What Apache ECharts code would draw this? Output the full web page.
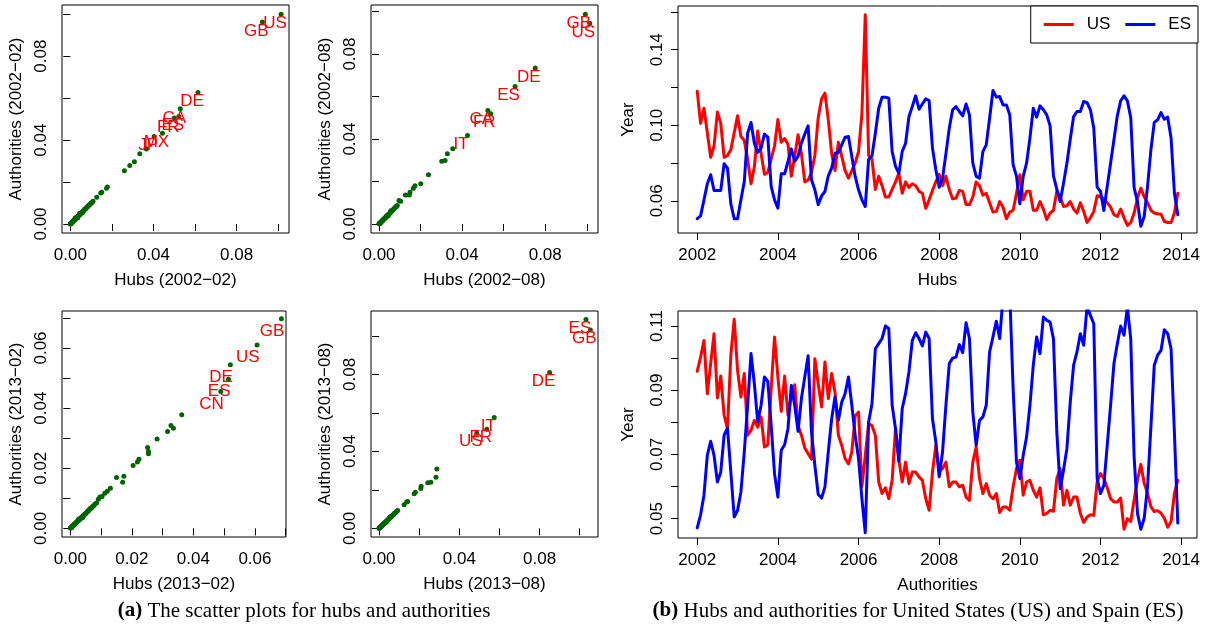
<!DOCTYPE html>
<html>
<head>
<meta charset="utf-8">
<script src="https://cdn.jsdelivr.net/npm/echarts@6/dist/echarts.min.js"></script>
<style>
  html, body { margin: 0; padding: 0; background: #ffffff; }
  #chart { width: 1211px; height: 631px; }
</style>
</head>
<body>
<div id="chart"></div>
<script>
// ---------------------------------------------------------------
// Scatter panels: hub score vs authority score per country.
// The first entries of each list are the labelled countries.
// ---------------------------------------------------------------
const names0202 = ['US', 'GB', 'DE', 'CA', 'ES', 'FR', 'MX', 'JP'];
const hubs0202 = [0.1014, 0.0924, 0.0614, 0.0529, 0.0522, 0.0500, 0.0443, 0.0403,
  0.0366, 0.0334, 0.0308, 0.0286, 0.0260, 0.0178, 0.0174, 0.0151, 0.0146, 0.0127,
  0.0001, 0.0002, 0.0003, 0.0004, 0.0006, 0.0007, 0.0009, 0.0010, 0.0012, 0.0014,
  0.0015, 0.0017, 0.0019, 0.0021, 0.0023, 0.0025, 0.0027, 0.0030, 0.0032, 0.0035,
  0.0037, 0.0040, 0.0043, 0.0046, 0.0049, 0.0052, 0.0055, 0.0059, 0.0062, 0.0066,
  0.0070, 0.0074, 0.0078, 0.0083, 0.0087, 0.0092, 0.0096, 0.0101, 0.0105, 0.0109,
  0.0035, 0.0045, 0.0060, 0.0024, 0.0000, 0.0001];
const auth0202 = [0.1000, 0.0963, 0.0627, 0.0549, 0.0513, 0.0505, 0.0433, 0.0417,
  0.0357, 0.0335, 0.0297, 0.0279, 0.0254, 0.0176, 0.0171, 0.0151, 0.0148, 0.0127,
  0.0002, 0.0001, 0.0004, 0.0004, 0.0005, 0.0008, 0.0009, 0.0011, 0.0012, 0.0013,
  0.0016, 0.0017, 0.0020, 0.0021, 0.0022, 0.0026, 0.0027, 0.0029, 0.0033, 0.0034,
  0.0038, 0.0041, 0.0042, 0.0047, 0.0048, 0.0053, 0.0055, 0.0058, 0.0063, 0.0065,
  0.0071, 0.0073, 0.0079, 0.0082, 0.0088, 0.0091, 0.0097, 0.0100, 0.0104, 0.0108,
  0.0029, 0.0051, 0.0055, 0.0030, 0.0001, 0.0000];

const names0208 = ['GB', 'US', 'DE', 'ES', 'CA', 'FR', 'IT'];
const hubs0208 = [0.0993, 0.1014, 0.0752, 0.0655, 0.0524, 0.0538, 0.0426,
  0.0355, 0.0329, 0.0318, 0.0302, 0.0238, 0.0201, 0.0173, 0.0165, 0.0149, 0.0146,
  0.0127, 0.0104, 0.0096,
  0.0001, 0.0002, 0.0003, 0.0005, 0.0006, 0.0008, 0.0009, 0.0011, 0.0013, 0.0015,
  0.0016, 0.0018, 0.0020, 0.0022, 0.0024, 0.0027, 0.0029, 0.0031, 0.0034, 0.0036,
  0.0039, 0.0042, 0.0045, 0.0048, 0.0051, 0.0055, 0.0058, 0.0062, 0.0066, 0.0070,
  0.0074, 0.0079, 0.0083, 0.0088, 0.0044, 0.0057, 0.0000];
const auth0208 = [0.0988, 0.0945, 0.0734, 0.0647, 0.0534, 0.0519, 0.0417,
  0.0354, 0.0331, 0.0299, 0.0295, 0.0232, 0.0190, 0.0180, 0.0168, 0.0149, 0.0136,
  0.0136, 0.0107, 0.0111,
  0.0002, 0.0001, 0.0004, 0.0004, 0.0007, 0.0007, 0.0010, 0.0010, 0.0014, 0.0014,
  0.0017, 0.0017, 0.0021, 0.0021, 0.0025, 0.0026, 0.0030, 0.0030, 0.0035, 0.0035,
  0.0040, 0.0041, 0.0046, 0.0047, 0.0050, 0.0056, 0.0057, 0.0063, 0.0065, 0.0071,
  0.0073, 0.0080, 0.0081, 0.0087, 0.0038, 0.0062, 0.0001];

const names1302 = ['GB', 'US', 'DE', 'ES', 'CN'];
const hubs1302 = [0.0686, 0.0607, 0.0520, 0.0514, 0.0489,
  0.0362, 0.0335, 0.0327, 0.0316, 0.0282, 0.0251, 0.0254, 0.0254, 0.0223, 0.0218,
  0.0204, 0.0174, 0.0150, 0.0170, 0.0130, 0.0120, 0.0112, 0.0103, 0.0096, 0.0091,
  0.0001, 0.0002, 0.0003, 0.0004, 0.0005, 0.0006, 0.0007, 0.0008, 0.0010, 0.0011,
  0.0012, 0.0013, 0.0015, 0.0016, 0.0018, 0.0019, 0.0021, 0.0022, 0.0024, 0.0026,
  0.0028, 0.0030, 0.0032, 0.0034, 0.0036, 0.0038, 0.0041, 0.0043, 0.0046, 0.0049,
  0.0052, 0.0055, 0.0058, 0.0061, 0.0064, 0.0068, 0.0072, 0.0076, 0.0080, 0.0085,
  0.0027, 0.0040, 0.0000];
const auth1302 = [0.0697, 0.0610, 0.0544, 0.0496, 0.0455,
  0.0378, 0.0333, 0.0342, 0.0322, 0.0297, 0.0269, 0.0256, 0.0248, 0.0230, 0.0221,
  0.0209, 0.0173, 0.0169, 0.0153, 0.0133, 0.0123, 0.0117, 0.0106, 0.0104, 0.0097,
  0.0002, 0.0001, 0.0004, 0.0003, 0.0006, 0.0006, 0.0008, 0.0008, 0.0011, 0.0010,
  0.0013, 0.0013, 0.0016, 0.0015, 0.0019, 0.0019, 0.0022, 0.0021, 0.0025, 0.0025,
  0.0029, 0.0029, 0.0033, 0.0033, 0.0037, 0.0037, 0.0042, 0.0042, 0.0047, 0.0048,
  0.0053, 0.0054, 0.0059, 0.0060, 0.0066, 0.0067, 0.0073, 0.0075, 0.0081, 0.0084,
  0.0031, 0.0036, 0.0001];

const names1308 = ['ES', 'GB', 'DE', 'IT', 'FR', 'US'];
const hubs1308 = [0.1031, 0.1053, 0.0850, 0.0574, 0.0537, 0.0487,
  0.0288, 0.0284, 0.0258, 0.0243, 0.0210, 0.0208, 0.0181, 0.0175, 0.0143, 0.0138,
  0.0125, 0.0093,
  0.0001, 0.0002, 0.0003, 0.0004, 0.0005, 0.0007, 0.0008, 0.0009, 0.0011, 0.0012,
  0.0014, 0.0015, 0.0017, 0.0019, 0.0021, 0.0023, 0.0025, 0.0027, 0.0029, 0.0032,
  0.0034, 0.0037, 0.0040, 0.0043, 0.0046, 0.0049, 0.0052, 0.0056, 0.0060, 0.0064,
  0.0068, 0.0072, 0.0077, 0.0082, 0.0087, 0.0036, 0.0053, 0.0000];
const auth1308 = [0.1085, 0.1030, 0.0809, 0.0576, 0.0515, 0.0494,
  0.0308, 0.0266, 0.0239, 0.0237, 0.0218, 0.0207, 0.0187, 0.0180, 0.0140, 0.0137,
  0.0123, 0.0093,
  0.0002, 0.0001, 0.0004, 0.0003, 0.0006, 0.0006, 0.0009, 0.0008, 0.0012, 0.0011,
  0.0015, 0.0014, 0.0018, 0.0018, 0.0022, 0.0022, 0.0026, 0.0026, 0.0030, 0.0031,
  0.0035, 0.0036, 0.0041, 0.0042, 0.0047, 0.0048, 0.0053, 0.0055, 0.0061, 0.0063,
  0.0069, 0.0071, 0.0078, 0.0081, 0.0088, 0.0031, 0.0058, 0.0001];

// ---------------------------------------------------------------
// Monthly series, Jan 2002 .. Dec 2013 (one row per year).
// ---------------------------------------------------------------
const firstYear = 2002;
const usHubs = [
  0.118, 0.101, 0.109, 0.096, 0.083, 0.089, 0.107, 0.101, 0.083, 0.084, 0.087, 0.096,
  0.105, 0.094, 0.092, 0.082, 0.069, 0.078, 0.097, 0.085, 0.074, 0.075, 0.082, 0.089,
  0.103, 0.091, 0.093, 0.090, 0.073, 0.0835, 0.095, 0.085, 0.070, 0.071, 0.075, 0.084,
  0.104, 0.114, 0.117, 0.103, 0.085, 0.076, 0.091, 0.0835, 0.076, 0.072, 0.076, 0.080,
  0.086, 0.106, 0.1585, 0.084, 0.082, 0.066, 0.073, 0.068, 0.062, 0.062, 0.066, 0.070,
  0.0745, 0.064, 0.070, 0.067, 0.069, 0.068, 0.065, 0.064, 0.056, 0.0605, 0.0655, 0.070,
  0.074, 0.068, 0.073, 0.066, 0.061, 0.0614, 0.0655, 0.065, 0.058, 0.058, 0.062, 0.070,
  0.068, 0.063, 0.064, 0.059, 0.054, 0.0544, 0.0596, 0.0566, 0.0505, 0.054, 0.055, 0.064,
  0.0738, 0.0605, 0.065, 0.065, 0.055, 0.055, 0.0596, 0.0556, 0.050, 0.0535, 0.055, 0.065,
  0.062, 0.057, 0.0574, 0.0596, 0.0556, 0.0535, 0.059, 0.0544, 0.0485, 0.051, 0.0544, 0.0627,
  0.062, 0.061, 0.059, 0.0566, 0.0526, 0.0517, 0.0556, 0.051, 0.047, 0.0485, 0.0535, 0.0614,
  0.0667, 0.062, 0.059, 0.055, 0.0535, 0.053, 0.053, 0.049, 0.0485, 0.0485, 0.0535, 0.064
];
const esHubs = [
  0.0505, 0.052, 0.0605, 0.069, 0.0738, 0.0655, 0.0655, 0.0655, 0.0796, 0.0773, 0.0584, 0.0505,
  0.0505, 0.0605, 0.0702, 0.0958, 0.1015, 0.0905, 0.0856, 0.0879, 0.0953, 0.0937, 0.0676, 0.0605,
  0.0561, 0.0743, 0.0743, 0.0808, 0.0875, 0.0808, 0.0835, 0.0905, 0.0953, 0.0997, 0.0711, 0.0658,
  0.0579, 0.0626, 0.0649, 0.0732, 0.0773, 0.0852, 0.0856, 0.0896, 0.0937, 0.094, 0.0835, 0.0729,
  0.0658, 0.0605, 0.057, 0.082, 0.0838, 0.0958, 0.109, 0.1149, 0.1149, 0.1143, 0.0861, 0.0782,
  0.0746, 0.0861, 0.0905, 0.1046, 0.1099, 0.1156, 0.1085, 0.1113, 0.114, 0.1131, 0.0879, 0.0764,
  0.0672, 0.072, 0.0849, 0.0985, 0.1082, 0.1099, 0.1073, 0.105, 0.1113, 0.1055, 0.0799, 0.0729,
  0.072, 0.0861, 0.0896, 0.1037, 0.1184, 0.1149, 0.1152, 0.1108, 0.1108, 0.1055, 0.0791, 0.0729,
  0.0584, 0.0729, 0.0799, 0.0932, 0.109, 0.1043, 0.1103, 0.1082, 0.1055, 0.0997, 0.0732, 0.0662,
  0.0596, 0.0693, 0.0799, 0.0926, 0.1046, 0.1073, 0.1073, 0.1126, 0.112, 0.1082, 0.0985, 0.0672,
  0.0649, 0.0549, 0.0676, 0.0799, 0.0923, 0.105, 0.113, 0.1156, 0.113, 0.104, 0.067, 0.0596,
  0.0465, 0.0517, 0.0676, 0.087, 0.1015, 0.1029, 0.1067, 0.1032, 0.1043, 0.0932, 0.064, 0.0526
];
const usAuth = [
  0.0959, 0.1003, 0.1055, 0.0889, 0.0983, 0.1076, 0.0876, 0.0944, 0.0822, 0.078, 0.1009, 0.1121,
  0.0962, 0.0879, 0.0952, 0.076, 0.0775, 0.0806, 0.0785, 0.0817, 0.0723, 0.073, 0.0905, 0.1066,
  0.0941, 0.0834, 0.0944, 0.0822, 0.088, 0.0917, 0.079, 0.076, 0.072, 0.0702, 0.0685, 0.0998,
  0.092, 0.0848, 0.0988, 0.0874, 0.0952, 0.0894, 0.076, 0.0728, 0.0687, 0.067, 0.0708, 0.082,
  0.0832, 0.060, 0.0697, 0.0796, 0.0789, 0.076, 0.0614, 0.0578, 0.0596, 0.0562, 0.062, 0.078,
  0.0682, 0.0614, 0.0676, 0.0609, 0.0645, 0.0645, 0.063, 0.0619, 0.0562, 0.0526, 0.0645, 0.0728,
  0.0645, 0.0656, 0.0676, 0.0599, 0.0614, 0.0614, 0.0599, 0.0604, 0.0567, 0.0557, 0.0676, 0.0723,
  0.0625, 0.0578, 0.0609, 0.0573, 0.0562, 0.0578, 0.0519, 0.0536, 0.0536, 0.0526, 0.0599, 0.0656,
  0.0682, 0.0573, 0.0614, 0.0619, 0.0588, 0.0567, 0.0596, 0.0512, 0.0516, 0.0526, 0.0523, 0.0625,
  0.0656, 0.0542, 0.0588, 0.0542, 0.0567, 0.0567, 0.0516, 0.0488, 0.0505, 0.0512, 0.051, 0.0614,
  0.064, 0.0625, 0.0596, 0.0562, 0.0552, 0.0552, 0.0564, 0.0467, 0.05, 0.0491, 0.0558, 0.062,
  0.0669, 0.061, 0.0579, 0.0537, 0.0522, 0.0525, 0.0517, 0.0501, 0.0473, 0.0491, 0.0579, 0.062
];
const esAuth = [
  0.0471, 0.0512, 0.0573, 0.0697, 0.0741, 0.0697, 0.0614, 0.0645, 0.076, 0.0782, 0.0645, 0.0505,
  0.0526, 0.0583, 0.0708, 0.0853, 0.1014, 0.092, 0.0801, 0.0853, 0.0941, 0.0928, 0.0791, 0.064,
  0.0567, 0.0713, 0.073, 0.078, 0.0915, 0.0853, 0.0772, 0.0874, 0.0941, 0.1007, 0.077, 0.0666,
  0.0575, 0.0564, 0.0599, 0.0708, 0.0811, 0.0879, 0.0806, 0.0863, 0.0889, 0.0941, 0.0853, 0.076,
  0.0687, 0.0562, 0.0456, 0.0801, 0.0858, 0.1029, 0.1045, 0.1061, 0.11, 0.1092, 0.0853, 0.078,
  0.0679, 0.0843, 0.089, 0.0957, 0.1055, 0.1079, 0.1061, 0.1038, 0.1081, 0.1061, 0.0811, 0.0739,
  0.063, 0.0708, 0.0853, 0.0983, 0.1, 0.1003, 0.1042, 0.1017, 0.111, 0.1061, 0.0832, 0.0728,
  0.0806, 0.0817, 0.0853, 0.1019, 0.1066, 0.1115, 0.1061, 0.119, 0.122, 0.12, 0.0905, 0.0676,
  0.0625, 0.0697, 0.0754, 0.0853, 0.0978, 0.1066, 0.1014, 0.1128, 0.1118, 0.1112, 0.106, 0.077,
  0.0593, 0.0651, 0.0718, 0.0863, 0.0978, 0.1019, 0.1076, 0.104, 0.116, 0.1133, 0.1107, 0.0625,
  0.0578, 0.0604, 0.0728, 0.0853, 0.0983, 0.1045, 0.11, 0.1071, 0.116, 0.106, 0.0693, 0.0517,
  0.0467, 0.0501, 0.06, 0.0786, 0.0978, 0.1009, 0.1024, 0.1088, 0.1076, 0.1029, 0.0765, 0.0486
];

// Tick positions and labelled ticks
const ticksTenth = [0, 0.02, 0.04, 0.06, 0.08, 0.10];
const labelsTenth = [0, 0.04, 0.08];
const ticksSeventh = [0, 0.01, 0.02, 0.03, 0.04, 0.05, 0.06, 0.07];
const labelsSeventh = [0, 0.02, 0.04, 0.06];
const yearTicks = [2002, 2004, 2006, 2008, 2010, 2012, 2014];
const hubsTicks = [0.06, 0.08, 0.10, 0.12, 0.14, 0.16];
const hubsLabels = [0.06, 0.10, 0.14];
const authTicks = [0.05, 0.06, 0.07, 0.08, 0.09, 0.10, 0.11];
const authLabels = [0.05, 0.07, 0.09, 0.11];

// ---------------------------------------------------------------
// Layout and styling
// ---------------------------------------------------------------
const sans = '"Liberation Sans", Arial, Helvetica, sans-serif';
const serif = '"Liberation Serif", "Times New Roman", serif';
const ink = '#000000';
const dotColor = '#006400';
const usColor = '#ff0000';
const esColor = '#0000ff';
const textSize = 17;

const grids = [
  { left: 62, top: 5, width: 227, height: 228 },
  { left: 371, top: 5, width: 227, height: 228 },
  { left: 62, top: 311, width: 224, height: 226 },
  { left: 371, top: 311, width: 227, height: 226 },
  { left: 678, top: 6, width: 519, height: 227 },
  { left: 678, top: 311, width: 519, height: 227 }
];

const fmt2 = v => v.toFixed(2);
const fmtYear = v => String(Math.round(v));

const scatterPanels = [
  { hubs: hubs0202, auth: auth0202, names: names0202, labelOffset: [-6, 9],
    x: { min: -0.00402, max: 0.1052, ticks: ticksTenth, labels: labelsTenth, name: 'Hubs (2002\u221202)' },
    y: { min: -0.00429, max: 0.1044, ticks: ticksTenth, labels: labelsTenth, name: 'Authorities (2002\u221202)' } },
  { hubs: hubs0208, auth: auth0208, names: names0208, labelOffset: [-6.5, 9],
    x: { min: -0.00386, max: 0.1054, ticks: ticksTenth, labels: labelsTenth, name: 'Hubs (2002\u221208)' },
    y: { min: -0.00423, max: 0.1031, ticks: ticksTenth, labels: labelsTenth, name: 'Authorities (2002\u221208)' } },
  { hubs: hubs1302, auth: auth1302, names: names1302, labelOffset: [-9.3, 12.5],
    x: { min: -0.00272, max: 0.0701, ticks: ticksSeventh, labels: labelsSeventh, name: 'Hubs (2013\u221202)' },
    y: { min: -0.00288, max: 0.0723, ticks: ticksSeventh, labels: labelsSeventh, name: 'Authorities (2013\u221202)' } },
  { hubs: hubs1308, auth: auth1308, names: names1308, labelOffset: [-6, 8.5],
    x: { min: -0.00399, max: 0.1091, ticks: ticksTenth, labels: labelsTenth, name: 'Hubs (2013\u221208)' },
    y: { min: -0.0045, max: 0.1129, ticks: ticksTenth, labels: labelsTenth, name: 'Authorities (2013\u221208)' } }
];

function makeAxis(dim, gridIndex, o, fmt, nameGap) {
  return {
    type: 'value',
    gridIndex: gridIndex,
    min: o.min,
    max: o.max,
    axisLine: { show: false },
    splitLine: { show: false },
    axisTick: { show: true, inside: false, length: 7, customValues: o.ticks,
                lineStyle: { color: ink, width: 1 } },
    axisLabel: { show: true, customValues: o.labels, formatter: fmt,
                 margin: dim === 'x' ? 14 : 12, rotate: dim === 'y' ? 90 : 0,
                 color: ink, fontSize: textSize, fontFamily: sans, hideOverlap: false },
    name: o.name,
    nameLocation: 'middle',
    nameGap: nameGap,
    nameTextStyle: { color: ink, fontSize: textSize, fontFamily: sans }
  };
}

const xAxes = [];
const yAxes = [];
const series = [];

scatterPanels.forEach((p, k) => {
  xAxes.push(makeAxis('x', k, p.x, fmt2, 39));
  yAxes.push(makeAxis('y', k, p.y, fmt2, 37));
  series.push({
    type: 'scatter',
    xAxisIndex: k,
    yAxisIndex: k,
    symbol: 'circle',
    symbolSize: 5,
    silent: true,
    itemStyle: { color: dotColor, borderWidth: 0, opacity: 1 },
    label: { show: false, position: 'inside', offset: p.labelOffset, formatter: '{b}',
             color: '#ff0000', opacity: 1, fontSize: textSize, fontFamily: sans },
    data: p.hubs.map((h, i) => ({
      name: p.names[i] || '',
      value: [h, p.auth[i]],
      label: { show: i < p.names.length }
    }))
  });
});

// Time-series panels
const yearRange = { min: 2001.523, max: 2014.393, ticks: yearTicks, labels: yearTicks };
xAxes.push(makeAxis('x', 4, Object.assign({ name: 'Hubs' }, yearRange), fmtYear, 39));
yAxes.push(makeAxis('y', 4, { min: 0.04294, max: 0.16317, ticks: hubsTicks, labels: hubsLabels, name: 'Year' }, fmt2, 41));
xAxes.push(makeAxis('x', 5, Object.assign({ name: 'Authorities' }, yearRange), fmtYear, 39));
yAxes.push(makeAxis('y', 5, { min: 0.04396, max: 0.11467, ticks: authTicks, labels: authLabels, name: 'Year' }, fmt2, 41));

function monthly(values) {
  return values.map((v, i) => [firstYear + i / 12, v]);
}
function lineSeries(idx, name, values, color) {
  return {
    type: 'line',
    name: name,
    xAxisIndex: idx,
    yAxisIndex: idx,
    showSymbol: false,
    symbol: 'none',
    clip: true,
    silent: true,
    lineStyle: { color: color, width: 3, join: 'round', cap: 'round' },
    itemStyle: { color: color },
    data: monthly(values)
  };
}
series.push(lineSeries(4, 'US', usHubs, usColor));
series.push(lineSeries(4, 'ES', esHubs, esColor));
series.push(lineSeries(5, 'US', usAuth, usColor));
series.push(lineSeries(5, 'ES', esAuth, esColor));

const option = {
  animation: false,
  backgroundColor: '#ffffff',
  grid: grids.map(g => Object.assign({
    show: true, borderColor: ink, borderWidth: 1, backgroundColor: 'transparent',
    containLabel: false, outerBoundsMode: 'none'
  }, g)),
  xAxis: xAxes,
  yAxis: yAxes,
  legend: {
    data: ['US', 'ES'],
    right: 13,
    top: 6,
    orient: 'horizontal',
    icon: 'rect',
    itemWidth: 30,
    itemHeight: 3,
    itemGap: 15,
    padding: [10, 7, 10, 13],
    borderColor: ink,
    borderWidth: 1,
    backgroundColor: '#ffffff',
    selectedMode: false,
    textStyle: { color: ink, fontSize: textSize, fontFamily: sans, padding: [0, 0, 0, 8] }
  },
  graphic: [
    { type: 'text', x: 304, y: 611, silent: true,
      style: { text: '{b|(a)} The scatter plots for hubs and authorities',
               font: '21px ' + serif, fill: ink, align: 'center', verticalAlign: 'middle',
               rich: { b: { font: 'bold 21px ' + serif, fill: ink } } } },
    { type: 'text', x: 918, y: 611, silent: true,
      style: { text: '{b|(b)} Hubs and authorities for United States (US) and Spain (ES)',
               font: '21px ' + serif, fill: ink, align: 'center', verticalAlign: 'middle',
               rich: { b: { font: 'bold 21px ' + serif, fill: ink } } } }
  ],
  series: series
};

const chart = echarts.init(document.getElementById('chart'), null, { renderer: 'canvas' });
chart.setOption(option);
</script>
</body>
</html>
